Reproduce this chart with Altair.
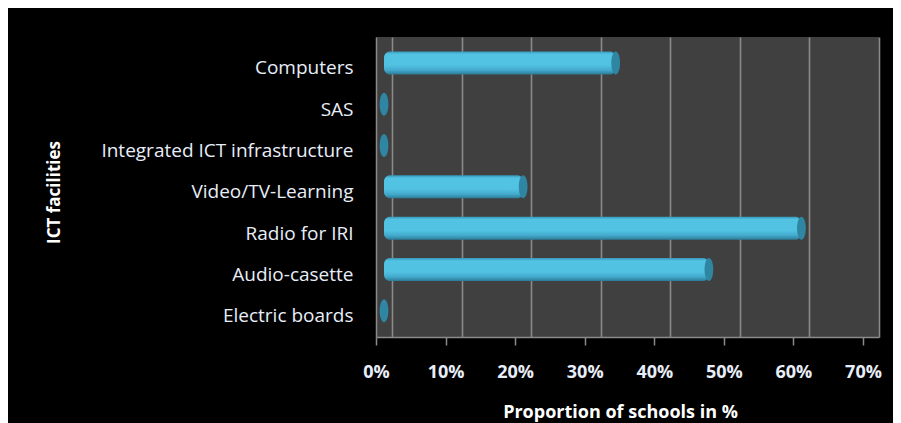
import altair as alt
import pandas as pd

categories = ["Computers", "SAS", "Integrated ICT infrastructure", "Video/TV-Learning",
              "Radio for IRI", "Audio-casette", "Electric boards"]
values = [33.3, 0.0, 0.0, 20.0, 60.0, 46.7, 0.0]
tick_values = [0, 10, 20, 30, 40, 50, 60, 70]

df = pd.DataFrame({"facility": categories, "pct": values})

FONT = "Open Sans"
LABEL_COLOR = "#e8eef9"
LINE = "#8a8a8a"

# pseudo-3D: back wall, bar depth and front edge use shifted copies of one scale
back_domain = [-2.3, 70]
mid_domain = [-1.15, 71.15]
front_domain = [0, 72.3]

y_enc = alt.Y(
    "facility:N",
    sort=categories,
    scale=alt.Scale(paddingInner=0, paddingOuter=0.13, align=1),
    axis=alt.Axis(
        title="ICT facilities",
        titleFont=FONT, titleFontSize=17, titleFontWeight="bold", titleColor="white",
        titleAngle=270, titleX=-317, titleY=155, titleAlign="center",
        titleBaseline="alphabetic",
        labelFont=FONT, labelFontSize=19, labelColor=LABEL_COLOR, labelLimit=0,
        labelPadding=23, ticks=False, domain=True, domainColor=LINE, domainWidth=1.5,
        grid=False,
    ),
)

grid_layer = alt.Chart(df).mark_point(opacity=0).encode(
    x=alt.X("pct:Q", scale=alt.Scale(domain=back_domain, nice=False, zero=False),
            axis=alt.Axis(orient="bottom", values=tick_values, grid=True, gridColor=LINE,
                          gridWidth=1.6, labels=False, ticks=False, domain=False, title=None)),
    y=y_enc,
)

gradient = alt.Gradient(
    gradient="linear",
    stops=[
        alt.GradientStop(color="#3797b8", offset=0),
        alt.GradientStop(color="#52c3e3", offset=0.12),
        alt.GradientStop(color="#52c2e2", offset=0.6),
        alt.GradientStop(color="#43a9cc", offset=0.82),
        alt.GradientStop(color="#2b7b96", offset=1),
    ],
    x1=0, x2=0, y1=0, y2=1,
)

bars = alt.Chart(df).mark_bar(color=gradient, size=23, cornerRadius=6, yOffset=-5.5).encode(
    x=alt.X("pct:Q", scale=alt.Scale(domain=mid_domain, nice=False, zero=False), axis=None),
    x2=alt.datum(0),
    y=y_enc,
)

ellipse = "M0,-1 A0.38,1 0 1,1 0,1 A0.38,1 0 1,1 0,-1 Z"
caps = alt.Chart(df).mark_point(shape=ellipse, filled=True, size=529, color="#2e86a3",
                                opacity=1, strokeWidth=0, yOffset=-5.5).encode(
    x=alt.X("pct:Q", scale=alt.Scale(domain=mid_domain, nice=False, zero=False), axis=None),
    y=y_enc,
)

front_axis = alt.Chart(df).mark_point(opacity=0).encode(
    x=alt.X("pct:Q", scale=alt.Scale(domain=front_domain, nice=False, zero=False),
            axis=alt.Axis(orient="bottom", values=tick_values, labelExpr="datum.value + '%'",
                          grid=False, ticks=True, tickSize=8, tickColor=LINE, tickWidth=1.5,
                          domain=True, domainColor=LINE, domainWidth=1.5,
                          labelFont=FONT, labelFontSize=18, labelFontWeight="bold",
                          labelColor=LABEL_COLOR, labelPadding=32, labelBaseline="alphabetic",
                          labelFlush=False, labelOverlap=False,
                          title="Proportion of schools in %", titleFont=FONT, titleFontSize=18,
                          titleFontWeight="bold", titleColor="white", titleBaseline="alphabetic",
                          titleX=244, titleY=80, titleAlign="center")),
    y=y_enc,
)

chart = alt.layer(grid_layer, bars, caps, front_axis).resolve_scale(x="independent").properties(
    width=503, height=300,
    background="black",
    padding={"left": 368, "top": 29, "right": 14, "bottom": 86},
    autosize=alt.AutoSizeParams(type="none"),
).configure_view(fill="#404040", stroke=None)

chart.save("out.html", embed_options={"renderer": "svg", "actions": False})
